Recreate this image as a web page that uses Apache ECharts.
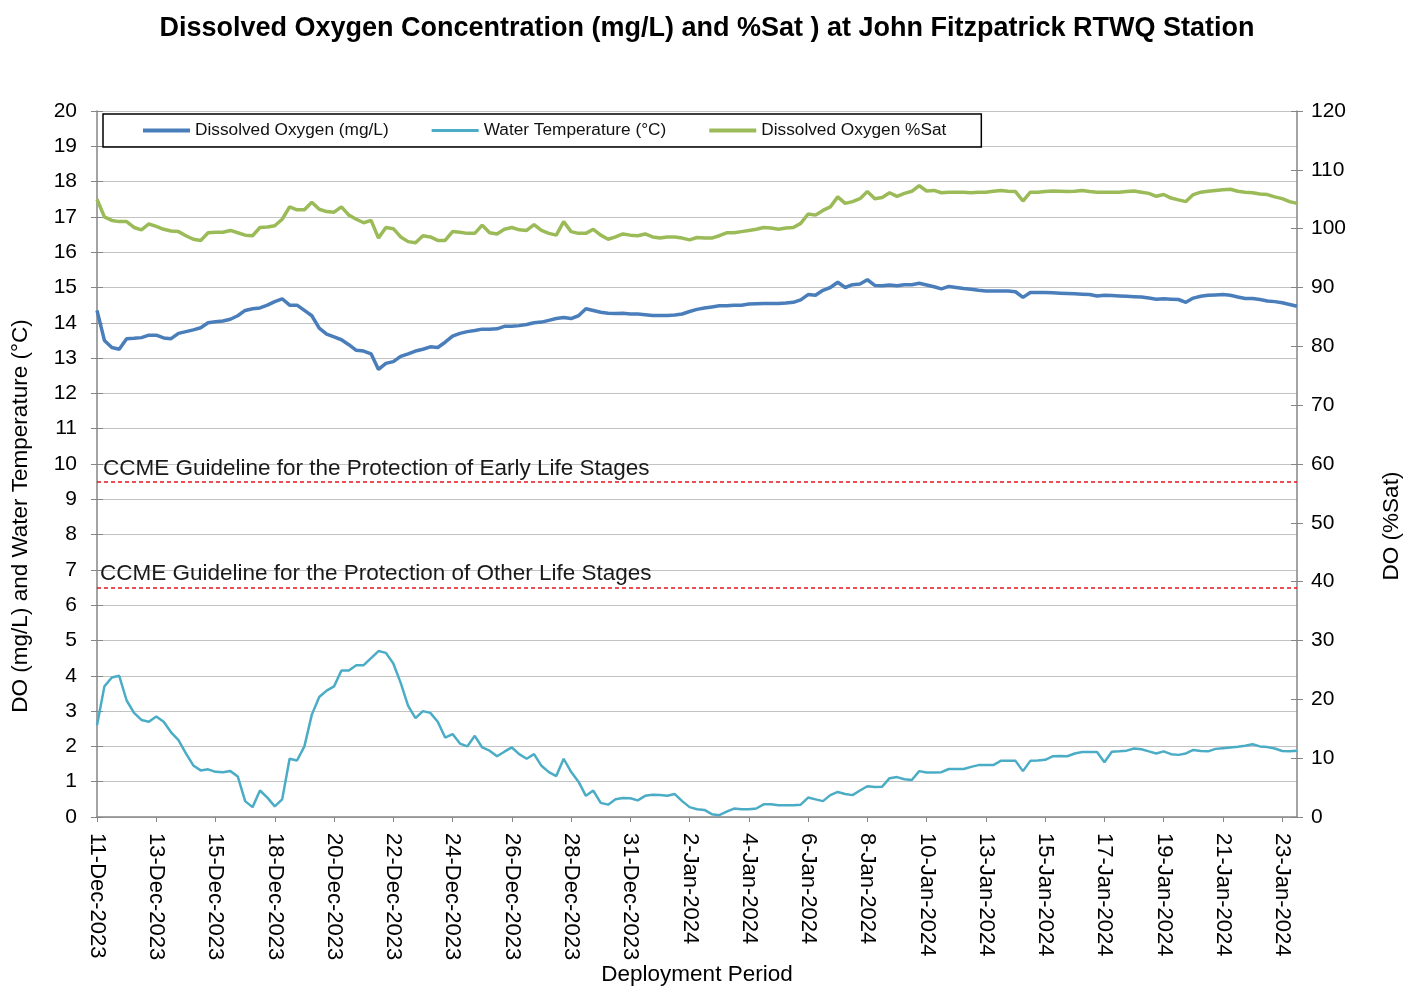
<!DOCTYPE html>
<html>
<head>
<meta charset="utf-8">
<script src="https://cdn.jsdelivr.net/npm/echarts@6/dist/echarts.min.js"></script>
<style>
html,body{margin:0;padding:0;background:#fff;}
#chart{width:1414px;height:988px;}
</style>
</head>
<body>
<div id="chart"></div>
<script>
// ---- data ----
const tickLabels = ['11-Dec-2023','13-Dec-2023','15-Dec-2023','18-Dec-2023','20-Dec-2023','22-Dec-2023','24-Dec-2023','26-Dec-2023','28-Dec-2023','31-Dec-2023','2-Jan-2024','4-Jan-2024','6-Jan-2024','8-Jan-2024','10-Jan-2024','13-Jan-2024','15-Jan-2024','17-Jan-2024','19-Jan-2024','21-Jan-2024','23-Jan-2024'];
const pointsPerLabel = 8;

const doMgL = [
14.35,13.5,13.3,13.25,13.55,13.56,13.58,13.65,
13.65,13.57,13.55,13.7,13.75,13.8,13.86,14.0,
14.03,14.05,14.1,14.2,14.35,14.4,14.42,14.5,
14.6,14.68,14.5,14.5,14.35,14.2,13.85,13.68,
13.6,13.52,13.38,13.22,13.2,13.12,12.68,12.85,
12.9,13.05,13.12,13.2,13.25,13.32,13.3,13.45,
13.62,13.7,13.75,13.78,13.82,13.82,13.83,13.9,
13.9,13.92,13.95,14.0,14.02,14.07,14.12,14.15,
14.12,14.2,14.4,14.35,14.3,14.27,14.26,14.27,
14.25,14.25,14.23,14.21,14.21,14.21,14.22,14.25,
14.32,14.38,14.42,14.45,14.48,14.48,14.5,14.5,
14.53,14.54,14.55,14.55,14.55,14.56,14.58,14.65,
14.8,14.78,14.92,15.0,15.15,15.0,15.08,15.1,
15.22,15.06,15.05,15.07,15.05,15.08,15.08,15.12,
15.07,15.02,14.96,15.03,15.0,14.97,14.95,14.92,
14.9,14.9,14.9,14.9,14.88,14.72,14.86,14.86,
14.86,14.85,14.84,14.83,14.82,14.81,14.8,14.76,
14.78,14.77,14.76,14.75,14.74,14.73,14.7,14.67,
14.68,14.67,14.66,14.58,14.7,14.75,14.78,14.79,
14.8,14.78,14.73,14.69,14.69,14.66,14.62,14.6,
14.57,14.52,14.47
];

const waterTemp = [
2.6,3.7,3.95,4.0,3.3,2.95,2.75,2.7,
2.85,2.7,2.4,2.18,1.8,1.46,1.32,1.35,
1.28,1.27,1.3,1.15,0.45,0.28,0.75,0.55,
0.3,0.5,1.65,1.6,2.0,2.9,3.4,3.58,
3.7,4.15,4.15,4.3,4.3,4.5,4.7,4.65,
4.35,3.8,3.15,2.8,3.0,2.95,2.7,2.25,
2.35,2.08,2.0,2.3,1.97,1.88,1.72,1.85,
1.97,1.78,1.65,1.78,1.45,1.27,1.16,1.65,
1.28,1.0,0.6,0.75,0.4,0.35,0.5,0.54,
0.53,0.47,0.6,0.63,0.62,0.6,0.65,0.45,
0.28,0.22,0.2,0.08,0.05,0.15,0.24,0.22,
0.22,0.24,0.36,0.36,0.33,0.33,0.33,0.35,
0.55,0.5,0.45,0.62,0.71,0.65,0.62,0.75,
0.87,0.85,0.86,1.1,1.13,1.07,1.05,1.3,
1.26,1.26,1.27,1.36,1.36,1.36,1.42,1.47,
1.47,1.47,1.59,1.59,1.59,1.3,1.59,1.6,
1.62,1.72,1.73,1.72,1.8,1.84,1.84,1.84,
1.55,1.85,1.86,1.88,1.94,1.92,1.86,1.8,
1.86,1.78,1.76,1.8,1.9,1.87,1.86,1.93,
1.95,1.97,1.99,2.02,2.06,2.0,1.98,1.94,
1.87,1.86,1.88
];

const doSat = [
105.0,102.0,101.4,101.2,101.2,100.2,99.8,100.8,
100.4,99.9,99.6,99.5,98.8,98.2,98.0,99.3,
99.4,99.4,99.7,99.3,98.9,98.8,100.2,100.3,
100.5,101.6,103.7,103.2,103.2,104.5,103.3,102.9,
102.8,103.7,102.3,101.6,101.0,101.4,98.4,100.2,
100.0,98.6,97.8,97.6,98.8,98.6,98.0,98.0,
99.5,99.4,99.2,99.2,100.6,99.3,99.1,99.9,
100.2,99.8,99.7,100.7,99.7,99.2,98.9,101.2,
99.5,99.2,99.2,99.9,98.9,98.2,98.6,99.1,
98.9,98.8,99.1,98.6,98.4,98.6,98.6,98.4,
98.1,98.5,98.4,98.4,98.8,99.3,99.3,99.5,
99.7,99.9,100.2,100.1,99.9,100.1,100.2,100.9,
102.5,102.3,103.1,103.7,105.4,104.3,104.6,105.1,
106.3,105.1,105.3,106.1,105.5,106.0,106.35,107.3,
106.4,106.5,106.1,106.2,106.2,106.2,106.1,106.2,
106.2,106.35,106.5,106.35,106.3,104.7,106.2,106.2,
106.3,106.4,106.35,106.3,106.35,106.5,106.3,106.2,
106.2,106.2,106.2,106.3,106.4,106.2,106.0,105.5,
105.8,105.2,104.9,104.6,105.8,106.2,106.35,106.5,
106.6,106.7,106.35,106.2,106.1,105.9,105.8,105.4,
105.1,104.6,104.3
];

const guidelineValues = [9.5, 6.5];
const guidelineTexts = ['CCME Guideline for the Protection of Early Life Stages', 'CCME Guideline for the Protection of Other Life Stages'];
const seriesNames = ['Dissolved Oxygen (mg/L)', 'Water Temperature (°C)', 'Dissolved Oxygen %Sat'];
const seriesColors = ['#4a7ebb', '#4bacc6', '#9bbb59'];

// ---- chart ----
const FONT = "'Liberation Sans', Arial, sans-serif";
const categories = doMgL.map((_, i) => String(i));
const chart = echarts.init(document.getElementById('chart'), null, {renderer: 'canvas'});

const axisGray = '#868686';

const option = {
  animation: false,
  backgroundColor: '#ffffff',
  textStyle: {fontFamily: FONT},
  title: {
    text: 'Dissolved Oxygen Concentration (mg/L) and %Sat ) at John Fitzpatrick RTWQ Station',
    left: 'center', top: 10,
    textStyle: {fontSize: 27, fontWeight: 'bold', color: '#000', fontFamily: FONT}
  },
  legend: {
    left: 103, top: 114,
    padding: [8, 35, 8, 40],
    borderColor: '#000', borderWidth: 1.5,
    itemWidth: 47, itemHeight: 4, itemGap: 43,
    icon: 'rect',
    textStyle: {fontSize: 17.25, color: '#111', fontFamily: FONT},
    data: [
      {name: seriesNames[0], icon: 'rect', itemStyle: {color: seriesColors[0]}},
      {name: seriesNames[1], icon: 'path://M0,0H47V3H0Z', itemStyle: {color: seriesColors[1]}},
      {name: seriesNames[2], icon: 'rect', itemStyle: {color: seriesColors[2]}}
    ]
  },
  grid: {left: 97, right: 117, top: 111, bottom: 171, containLabel: false, outerBoundsMode: 'none'},
  xAxis: {
    type: 'category',
    data: categories,
    boundaryGap: false,
    axisLine: {show: true, lineStyle: {color: axisGray, width: 1.5}},
    axisTick: {show: true, interval: pointsPerLabel - 1, length: 5, lineStyle: {color: axisGray}},
    axisLabel: {
      interval: pointsPerLabel - 1, rotate: -90, margin: 16,
      fontSize: 22, color: '#000', fontFamily: FONT,
      formatter: (v, idx) => (idx % pointsPerLabel === 0 && tickLabels[idx / pointsPerLabel]) ? tickLabels[idx / pointsPerLabel] : ''
    },
    splitLine: {show: false}
  },
  yAxis: [
    {
      type: 'value', min: 0, max: 20, interval: 1, position: 'left',
      axisLine: {show: true, lineStyle: {color: axisGray, width: 1.5}},
      axisTick: {show: true, length: 6, lineStyle: {color: axisGray}},
      axisLabel: {margin: 20, fontSize: 21, color: '#000', fontFamily: FONT},
      splitLine: {show: true, lineStyle: {color: '#c3c3c3', width: 1.2}}
    },
    {
      type: 'value', min: 0, max: 120, interval: 10, position: 'right',
      axisLine: {show: true, lineStyle: {color: axisGray, width: 1.5}},
      axisTick: {show: true, length: 6, lineStyle: {color: axisGray}},
      axisLabel: {margin: 14, fontSize: 21, color: '#000', fontFamily: FONT},
      splitLine: {show: false}
    },
    {
      type: 'value', min: 0, max: 20, interval: 1, position: 'left', offset: 0,
      axisLine: {show: false},
      axisTick: {show: true, inside: true, length: 6, lineStyle: {color: axisGray}},
      axisLabel: {show: false}, splitLine: {show: false}
    },
    {
      type: 'value', min: 0, max: 120, interval: 10, position: 'right', offset: 0,
      axisLine: {show: false},
      axisTick: {show: true, inside: true, length: 6, lineStyle: {color: axisGray}},
      axisLabel: {show: false}, splitLine: {show: false}
    }
  ],
  graphic: [
    {type: 'text', x: 21, y: 516, rotation: Math.PI / 2,
     style: {text: 'DO (mg/L) and Water Temperature (°C)', font: "22.5px 'Liberation Sans', Arial, sans-serif", fill: '#000', textAlign: 'center', textVerticalAlign: 'middle'}},
    {type: 'text', x: 1392, y: 526, rotation: Math.PI / 2,
     style: {text: 'DO (%Sat)', font: "22.5px 'Liberation Sans', Arial, sans-serif", fill: '#000', textAlign: 'center', textVerticalAlign: 'middle'}},
    {type: 'text', x: 697, y: 975,
     style: {text: 'Deployment Period', font: "22.5px 'Liberation Sans', Arial, sans-serif", fill: '#000', textAlign: 'center', textVerticalAlign: 'middle'}}
  ],
  series: [
    {
      name: seriesNames[0], type: 'line', yAxisIndex: 0, data: doMgL,
      symbol: 'none', showSymbol: false, z: 3,
      lineStyle: {color: seriesColors[0], width: 3.5},
      itemStyle: {color: seriesColors[0]},
      markLine: {
        silent: true, symbol: ['none', 'none'],
        lineStyle: {color: '#e3161d', type: [4, 3], width: 1.5},
        data: [
          {yAxis: guidelineValues[0], label: {show: true, position: 'insideStartTop', distance: [6, 1], formatter: guidelineTexts[0], fontSize: 22.5, color: '#1a1a1a', fontFamily: FONT}},
          {yAxis: guidelineValues[1], label: {show: true, position: 'insideStartTop', distance: [3, 2], formatter: guidelineTexts[1], fontSize: 22.5, color: '#1a1a1a', fontFamily: FONT}}
        ]
      }
    },
    {
      name: seriesNames[1], type: 'line', yAxisIndex: 0, data: waterTemp,
      symbol: 'none', showSymbol: false, z: 3,
      lineStyle: {color: seriesColors[1], width: 2.5},
      itemStyle: {color: seriesColors[1]}
    },
    {
      name: seriesNames[2], type: 'line', yAxisIndex: 1, data: doSat,
      symbol: 'none', showSymbol: false, z: 3,
      lineStyle: {color: seriesColors[2], width: 3.5},
      itemStyle: {color: seriesColors[2]}
    }
  ]
};
chart.setOption(option);
</script>
</body>
</html>
